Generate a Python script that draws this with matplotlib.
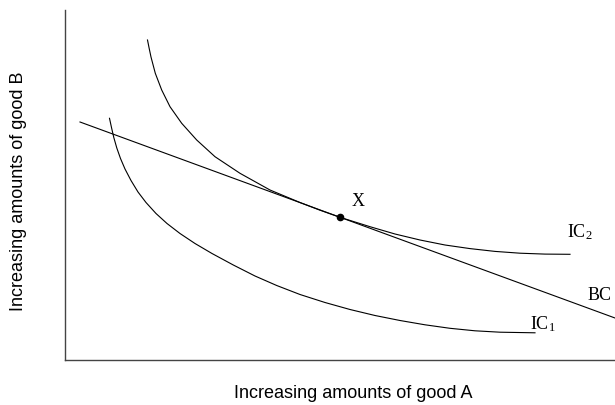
import numpy as np
import matplotlib
matplotlib.use('Agg')
import matplotlib.pyplot as plt

plt.rcParams['mathtext.fontset'] = 'custom'
plt.rcParams['mathtext.rm'] = 'Liberation Serif'
plt.rcParams['mathtext.it'] = 'Liberation Serif:italic'

# indifference curves (good A, good B; arbitrary units)
ic2_a = [82.5, 84.2, 86.0, 90.3, 96.7, 105.0, 116.7, 131.7, 150.0, 175.0, 205.0, 235.0,
         255.0, 275.0, 305.0, 330.0, 355.0, 380.0, 405.0, 430.0, 455.0, 480.0, 505.0]
ic2_b = [320.0, 311.5, 303.0, 286.7, 270.0, 253.3, 236.7, 220.0, 203.3, 186.7, 170.0, 157.5,
         149.8, 142.7, 133.3, 126.0, 120.0, 115.0, 111.4, 108.6, 106.8, 105.9, 105.7]

ic1_a = [44.5, 46.6, 48.8, 51.8, 55.5, 60.0, 66.0, 73.0, 81.0, 91.0, 102.0, 115.0, 130.0,
         147.0, 168.3, 190.0, 211.7, 235.0, 260.0, 285.0, 310.0, 335.0, 360.0, 385.0,
         410.0, 435.0, 470.0]
ic1_b = [241.7, 232.0, 222.5, 212.0, 201.5, 191.0, 179.5, 168.0, 157.5, 146.5, 136.5, 126.5,
         116.5, 106.5, 95.0, 84.0, 74.5, 65.5, 57.5, 50.5, 44.5, 39.5, 35.2, 31.7,
         29.2, 27.8, 27.2]

# budget constraint end points
bc_a = [15.0, 550.0]
bc_b = [238.0, 42.0]

# optimum
x_a, x_b = 275.0, 142.7

fig = plt.figure(figsize=(6.15, 4.05), dpi=100)
ax = fig.add_axes([65/615, 45/405, 550/615, 350/405])

ax.plot(ic2_a, ic2_b, color='black', lw=0.8)
ax.plot(ic1_a, ic1_b, color='black', lw=0.8)
ax.plot(bc_a, bc_b, color='black', lw=0.8)
ax.plot(x_a, x_b, 'o', color='black', ms=4.5)

serif = 'Liberation Serif'
ax.text(293, 159, 'X', family=serif, fontsize=13, ha='center', va='center')
ax.text(502, 123, r'IC$_2$', family=serif, fontsize=13, ha='left', va='baseline')
ax.text(523, 60, 'BC', family=serif, fontsize=13, ha='left', va='baseline')
ax.text(465, 31, r'IC$_1$', family=serif, fontsize=13, ha='left', va='baseline')

ax.set_xlim(0, 550)
ax.set_ylim(0, 350)
ax.set_xticks([])
ax.set_yticks([])
for side in ['top', 'right']:
    ax.spines[side].set_visible(False)
for side in ['left', 'bottom']:
    ax.spines[side].set_color('#444444')
    ax.spines[side].set_linewidth(1.0)

ax.set_xlabel('Increasing amounts of good A', family='Liberation Sans', fontsize=13, va='center')
ax.xaxis.set_label_coords((353 - 65)/550, (360 - 393)/350)
ax.set_ylabel('Increasing amounts of good B', family='Liberation Sans', fontsize=13, va='center')
ax.yaxis.set_label_coords((19 - 65)/550, (360 - 191.5)/350)

plt.savefig('out.png', dpi=100)
plt.close()
